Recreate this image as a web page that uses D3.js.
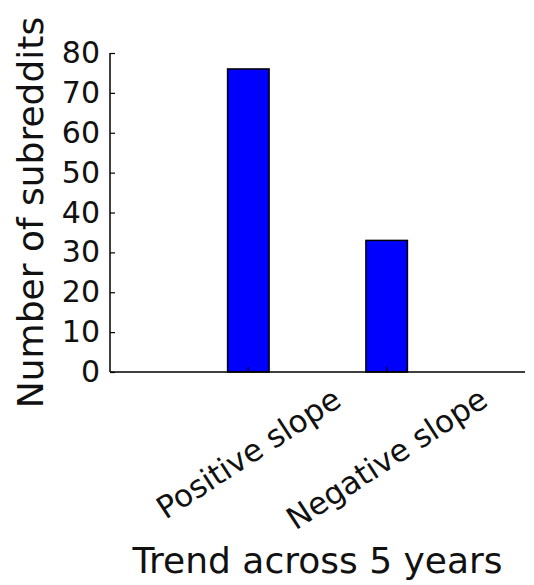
<!DOCTYPE html>
<html>
<head>
<meta charset="utf-8">
<script src="https://cdn.jsdelivr.net/npm/d3@7"></script>
<style>
  html, body { margin: 0; padding: 0; background: #fff; }
  svg { display: block; font-family: "DejaVu Sans", sans-serif; }
</style>
</head>
<body>
<svg id="chart" width="534" height="585"></svg>
<script>
// Subreddit counts by 5-year trend direction
const categories = ["Positive slope", "Negative slope"];
const counts = [76, 33];
const yTicks = [0, 10, 20, 30, 40, 50, 60, 70, 80];
const xTitle = "Trend across 5 years";
const yTitle = "Number of subreddits";

const svg = d3.select("#chart");
const plotLeft = 110, plotRight = 525, plotTop = 53, plotBottom = 372;

// categories sit at positions 1 and 2 on a 0..3 linear x range
const x = d3.scaleLinear().domain([0, 3]).range([plotLeft, plotRight]);
const y = d3.scaleLinear().domain([0, 80]).range([plotBottom, plotTop]);
const barW = 0.3;

// bars
svg.append("g").selectAll("rect")
  .data(counts)
  .join("rect")
  .attr("x", (d, i) => x(i + 1 - barW / 2))
  .attr("width", (d, i) => x(i + 1 + barW / 2) - x(i + 1 - barW / 2))
  .attr("y", d => y(d))
  .attr("height", d => y(0) - y(d))
  .attr("fill", "#0000ff")
  .attr("stroke", "#000")
  .attr("stroke-width", 1.5);

// y axis: inward ticks, labels on the left
const yAxis = d3.axisLeft(y).tickValues(yTicks).tickSize(0).tickPadding(10);
const gy = svg.append("g").attr("transform", `translate(${plotLeft},0)`).call(yAxis);
gy.select(".domain").remove();
gy.selectAll(".tick text").attr("font-size", 30).attr("fill", "#111")
  .attr("font-family", "DejaVu Sans, sans-serif");
gy.selectAll(".tick").append("line")
  .attr("x1", 0).attr("x2", 5).attr("stroke", "#000").attr("stroke-width", 1.2);
svg.append("line")
  .attr("x1", plotLeft).attr("x2", plotLeft).attr("y1", plotTop).attr("y2", plotBottom)
  .attr("stroke", "#000").attr("stroke-width", 1.5);

// x axis baseline with inward ticks at each category
svg.append("line")
  .attr("x1", plotLeft).attr("x2", plotRight).attr("y1", plotBottom).attr("y2", plotBottom)
  .attr("stroke", "#000").attr("stroke-width", 1.5);
svg.append("g").selectAll("line")
  .data(categories)
  .join("line")
  .attr("x1", (d, i) => x(i + 1)).attr("x2", (d, i) => x(i + 1))
  .attr("y1", plotBottom).attr("y2", plotBottom - 5)
  .attr("stroke", "#000").attr("stroke-width", 1.2);

// rotated category labels, bounding box centred on the tick, top just below axis
const angleDeg = 33;
const angle = angleDeg * Math.PI / 180;
const labelTop = 383;
const labelFont = 31;
svg.append("g").selectAll("text")
  .data(categories)
  .join("text")
  .text(d => d)
  .attr("font-size", labelFont)
  .attr("fill", "#111")
  .attr("text-anchor", "middle")
  .attr("dominant-baseline", "central")
  .each(function(d, i) {
    const len = this.getComputedTextLength();
    const h = labelFont * 0.95;
    const boxH = len * Math.sin(angle) + h * Math.cos(angle);
    const cx = x(i + 1), cy = labelTop + boxH / 2;
    d3.select(this).attr("x", cx).attr("y", cy)
      .attr("transform", `rotate(${-angleDeg},${cx},${cy})`);
  });

// axis titles
svg.append("text")
  .text(xTitle)
  .attr("x", (plotLeft + plotRight) / 2).attr("y", 573)
  .attr("text-anchor", "middle")
  .attr("font-size", 36).attr("fill", "#111");

svg.append("text")
  .text(yTitle)
  .attr("transform", `translate(43,${(plotTop + plotBottom) / 2}) rotate(-90)`)
  .attr("text-anchor", "middle")
  .attr("font-size", 36).attr("fill", "#111");
</script>
</body>
</html>
